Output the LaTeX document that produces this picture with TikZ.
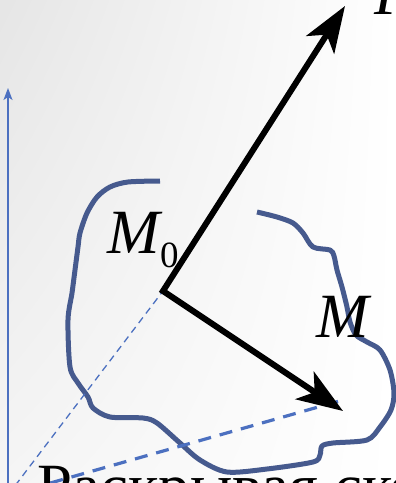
\documentclass[tikz,border=0pt]{standalone}
\usepackage{fontspec}
\setmainfont{Liberation Serif}
\usetikzlibrary{arrows.meta,shadings}
\definecolor{blobblue}{RGB}{70,90,142}
\definecolor{axisblue}{RGB}{76,112,192}
\tikzset{
  blob/.style={draw=blobblue, line width=5pt, line join=round},
  vecarrow/.style={draw=black, line width=6pt, miter limit=10,
    {Stealth[length=46pt, width=33pt, inset=12pt]}-{Stealth[length=46pt, width=33pt, inset=12pt]}},
  axis/.style={draw=axisblue, line width=1.4pt, -{Stealth[length=12pt, width=9pt, inset=3pt]}},
  thindash/.style={draw=axisblue, line width=1.3pt, dash pattern=on 7pt off 5pt},
  thickdash/.style={draw=axisblue, line width=3.2pt, dash pattern=on 13pt off 9pt},
  lbl/.style={inner sep=0pt, anchor=base west, font=\fontsize{63}{70}\selectfont},
}
\begin{document}
\begin{tikzpicture}[x=1pt, y=-1pt]
  \useasboundingbox (0,0) rectangle (396,483);
  \clip (0,0) rectangle (396,483);
  \shade[upper left=black!10, upper right=white, lower left=black!4, lower right=white]
    (0,0) rectangle (396,483);

  % points
  \coordinate (O) at (8,495);
  \coordinate (M0) at (163,291);
  \coordinate (Mpt) at (343,400);
  \coordinate (tipF) at (345,6);
  \coordinate (tipM) at (343,411);
  \coordinate (axtop) at (8,88);
  \coordinate (axbot) at (8,500);

  % axis
  \draw[axis] (axbot) -- (axtop);

  % blob outline
  \draw[blob] plot[smooth, tension=0.5] coordinates {
    (257,212) (277,217) (293,223) (303,233) (313,247) (330,250) (334,256)
    (337,270) (342,287) (347,307) (350,322) (356,335) (367,342) (380,350)
    (390,370) (394,393) (391,410) (380,427) (367,440) (333,443) (322,446)
    (320,455) (313,462) (267,469) (227,472) (200,460) (180,443) (157,423)
    (143,418) (110,417) (93,408) (88,397) (78,383) (70,367) (68,320)
    (72,293) (75,270) (78,247) (80,233) (87,213) (97,197) (110,187)
    (128,182) (160,181)};

  % dashed radius vectors
  \draw[thindash] (O) -- (M0);
  \draw[thickdash] (O) -- (Mpt);

  % vectors
  \draw[vecarrow] (tipF) -- (M0) -- (tipM);

  % labels
  \node[lbl] (lM0) at (107,253) {\itshape M};
  \node[inner sep=0pt, anchor=base west, font=\fontsize{37}{40}\selectfont] (lsub) at (160,267) {0};
  \node[lbl] (lM) at (316,337) {\itshape M};
  \node[lbl] (lF) at (374,14) {\itshape F};
  \node[lbl] (txt) at (37,507) {Раскрывая скобки};
\end{tikzpicture}
\end{document}
